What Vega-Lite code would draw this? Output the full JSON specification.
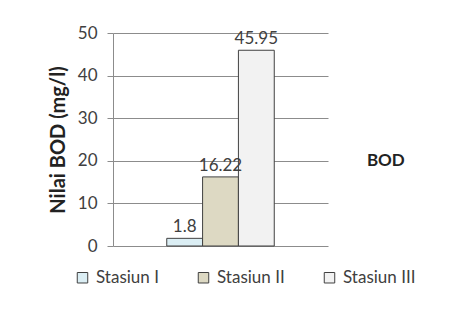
{
  "$schema": "https://vega.github.io/schema/vega-lite/v6.json",
  "autosize": "none",
  "width": 215,
  "height": 213,
  "padding": {"left": 113, "top": 33, "right": 141, "bottom": 63},
  "background": "white",
  "title": {"text": "BOD", "orient": "right", "angle": 0, "anchor": "middle", "align": "center", "baseline": "middle", "offset": -68, "dy": 21, "font": "Lato", "fontSize": 17, "fontWeight": "bold", "color": "#222222"},
  "data": {"values": [
    {"param": "BOD", "stasiun": "Stasiun I", "bod": 1.8, "label": "1.8"},
    {"param": "BOD", "stasiun": "Stasiun II", "bod": 16.22, "label": "16.22"},
    {"param": "BOD", "stasiun": "Stasiun III", "bod": 45.95, "label": "45.95"}
  ]},
  "encoding": {
    "x": {"field": "param", "type": "nominal",
      "scale": {"paddingInner": 0, "paddingOuter": 0.5},
      "axis": {"labels": false, "ticks": false, "domain": false, "title": null}},
    "xOffset": {"field": "stasiun", "type": "nominal", "sort": null, "scale": {"paddingInner": 0, "paddingOuter": 0}},
    "y": {"field": "bod", "type": "quantitative",
      "scale": {"domain": [0, 50], "nice": false},
      "axis": {"values": [0, 10, 20, 30, 40, 50], "title": "Nilai BOD (mg/l)", "titleFont": "Lato", "titleFontSize": 20, "titleFontWeight": "bold", "titleColor": "#222222", "titlePadding": 9,
        "labelFont": "Lato", "labelFontSize": 17, "labelColor": "#404040", "labelPadding": 10,
        "grid": true, "gridColor": "#8c8c8c", "tickColor": "#8c8c8c", "tickSize": 6, "domainColor": "#8c8c8c"}}
  },
  "layer": [
    {"mark": {"type": "bar", "stroke": "#404040", "strokeWidth": 1},
     "encoding": {"color": {"field": "stasiun", "type": "nominal", "sort": null,
       "scale": {"domain": ["Stasiun I", "Stasiun II", "Stasiun III"], "range": ["#dbeef4", "#ddd9c3", "#f2f2f2"]},
       "legend": {"orient": "none", "legendX": -39, "legendY": 236, "direction": "horizontal", "title": null, "symbolType": "square", "symbolSize": 110, "symbolStrokeColor": "#404040", "symbolStrokeWidth": 1, "labelFont": "Lato", "labelFontSize": 17, "labelColor": "#404040", "labelOffset": 5, "columnPadding": 36}}}},
    {"mark": {"type": "text", "dy": -11, "font": "Lato", "fontSize": 17, "color": "#404040"},
     "encoding": {"text": {"field": "label"}}}
  ],
  "config": {"view": {"stroke": null}}
}
